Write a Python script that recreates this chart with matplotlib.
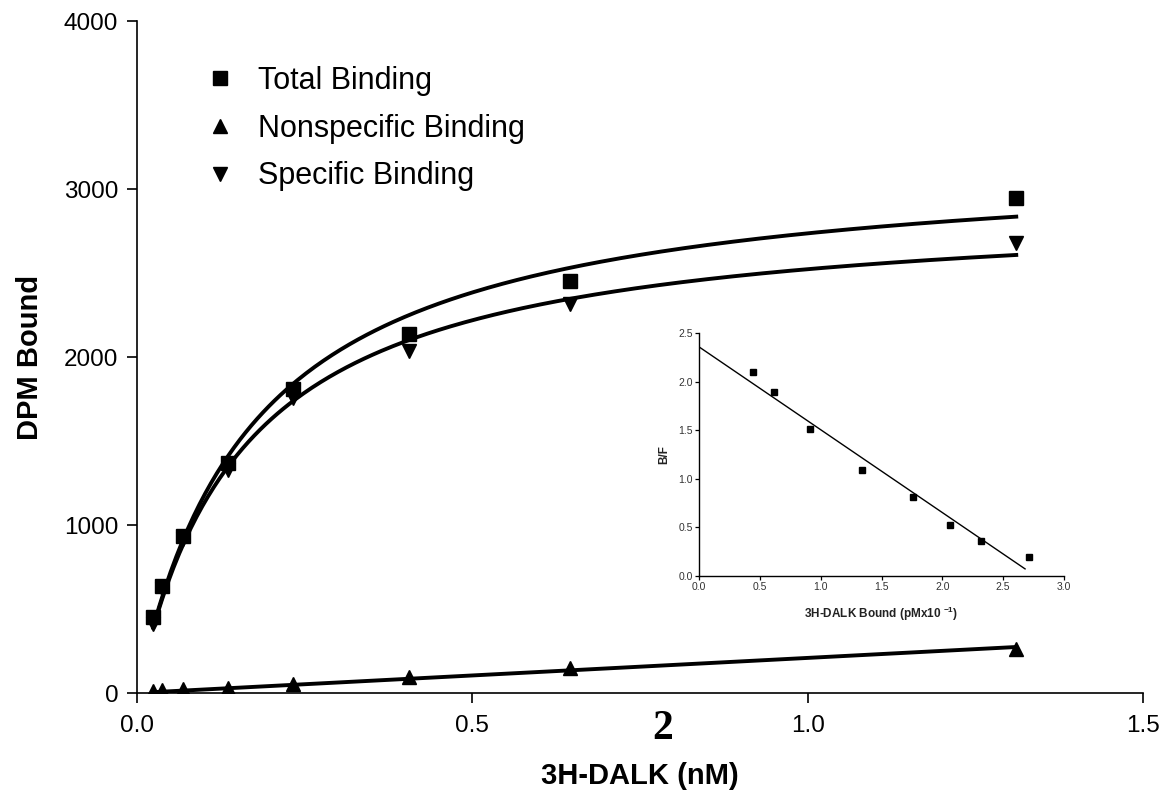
import numpy as np
import matplotlib
matplotlib.use("Agg")
import matplotlib.pyplot as plt
from matplotlib.lines import Line2D

plt.rcParams['font.family'] = ['Liberation Sans', 'DejaVu Sans']
plt.rcParams['mathtext.fontset'] = 'custom'
plt.rcParams['mathtext.rm'] = 'Liberation Sans'
plt.rcParams['mathtext.bf'] = 'Liberation Sans:bold'

# ---- main saturation data ----
conc_nM = [0.0243, 0.038, 0.068, 0.136, 0.233, 0.406, 0.646, 1.311]
total_dpm = [455, 637, 934, 1367, 1808, 2135, 2454, 2945]
nonspecific_dpm = [12, 18, 22, 30, 55, 97, 147, 262]
specific_dpm = [410, 620, 915, 1327, 1756, 2036, 2314, 2680]

# fitted one-site hyperbola parameters
total_bmax, total_kd = 3210.0, 0.1732
specific_bmax, specific_kd = 2923.0, 0.1587

# ---- Scatchard inset data ----
bound_pM = [0.44, 0.62, 0.91, 1.34, 1.76, 2.06, 2.32, 2.71]
b_over_f = [2.10, 1.90, 1.51, 1.09, 0.81, 0.53, 0.365, 0.20]
scatchard_line_range = [0.0, 2.68]

legend_labels = ["Total Binding", "Nonspecific Binding", "Specific Binding"]
main_xticks = [0.0, 0.5, 1.0, 1.5]
main_yticks = [0, 1000, 2000, 3000, 4000]
inset_xticks = [0.0, 0.5, 1.0, 1.5, 2.0, 2.5, 3.0]
inset_yticks = [0.0, 0.5, 1.0, 1.5, 2.0, 2.5]

W, H = 1167, 798
fig = plt.figure(figsize=(W / 100, H / 100), dpi=100)

ax = fig.add_axes([137 / W, 1 - 693 / H, (1143 - 137) / W, (693 - 21) / H])
x = np.asarray(conc_nM)
xs = np.linspace(x.min(), x.max(), 300)

ns_slope = np.sum(x * np.asarray(nonspecific_dpm)) / np.sum(x * x)

lw = 2.8
ax.plot(xs, total_bmax * xs / (total_kd + xs), color='black', lw=lw, zorder=2)
ax.plot(xs, specific_bmax * xs / (specific_kd + xs), color='black', lw=lw, zorder=2)
ax.plot(xs, ns_slope * xs, color='black', lw=lw, zorder=2)

ms = 10
ax.plot(x, specific_dpm, 'v', color='black', ms=ms, zorder=3)
ax.plot(x, nonspecific_dpm, '^', color='black', ms=ms, zorder=3)
ax.plot(x, total_dpm, 's', color='black', ms=ms, zorder=3)

ax.set_xlim(0, 1.5)
ax.set_ylim(0, 4000)
ax.set_xticks(main_xticks)
ax.set_xticklabels([f"{v:.1f}" for v in main_xticks])
ax.set_yticks(main_yticks)
ax.set_yticklabels([str(v) for v in main_yticks])
for s in ['top', 'right']:
    ax.spines[s].set_visible(False)
for s in ['left', 'bottom']:
    ax.spines[s].set_linewidth(1.2)
ax.tick_params(direction='out', length=7.5, width=1.2, labelsize=17.5, pad=6)
ax.tick_params(axis='x', pad=8)
ax.set_xlabel("3H-DALK (nM)", fontsize=21, fontweight='bold', labelpad=18)
ax.set_ylabel("DPM Bound", fontsize=21, fontweight='bold', labelpad=14)

handles = [Line2D([], [], marker=m, color='black', linestyle='none', ms=ms)
           for m in ['s', '^', 'v']]
leg = fig.legend(handles, legend_labels, loc='upper left',
                 bbox_to_anchor=(205 / W, 1 - 66 / H), frameon=False,
                 fontsize=22, handlelength=1.0, handletextpad=0.75,
                 labelspacing=0.58, borderpad=0, borderaxespad=0)

fig.text(663 / W, 1 - 729 / H, "2", family='Liberation Serif', fontweight='bold',
         fontsize=30, ha='center', va='center')

# ---- inset ----
ax2 = fig.add_axes([699 / W, 1 - 576 / H, (1064 - 699) / W, (576 - 333.3) / H])
bx = np.asarray(bound_pM)
by = np.asarray(b_over_f)
slope, intercept = np.polyfit(bx, by, 1)
lx = np.linspace(scatchard_line_range[0], scatchard_line_range[1], 50)
ax2.plot(lx, slope * lx + intercept, color='black', lw=1.0)
ax2.plot(bx, by, 's', color='black', ms=4.2)
ax2.set_xlim(0, 3.0)
ax2.set_ylim(0, 2.5)
ax2.set_xticks(inset_xticks)
ax2.set_xticklabels([f"{v:.1f}" for v in inset_xticks])
ax2.set_yticks(inset_yticks)
ax2.set_yticklabels([f"{v:.1f}" for v in inset_yticks])
for s in ['top', 'right']:
    ax2.spines[s].set_visible(False)
for s in ['left', 'bottom']:
    ax2.spines[s].set_linewidth(1.0)
ax2.tick_params(direction='out', length=3, width=0.9, labelsize=7.5,
                pad=1.5, labelcolor='#333333')
ax2.set_xlabel(r"3H-DALK Bound (pMx10 $^{\mathbf{-1}}$)", fontsize=8.5,
               fontweight='bold', labelpad=9, color='#222222')
ax2.set_ylabel("B/F", fontsize=8.5, fontweight='bold', labelpad=6, color='#222222')

fig.savefig("out.png", dpi=100)
